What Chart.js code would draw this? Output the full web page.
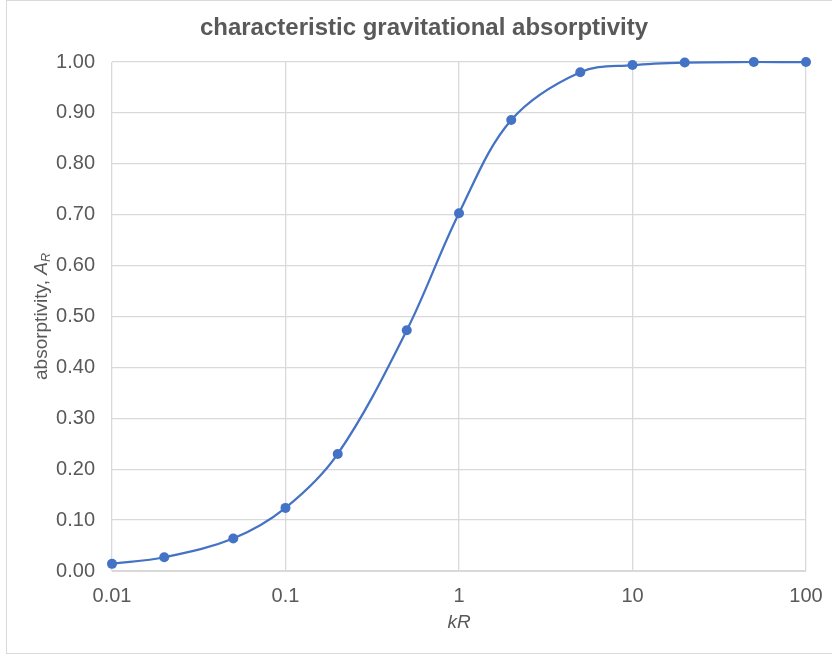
<!DOCTYPE html>
<html>
<head>
<meta charset="utf-8">
<script src="https://cdn.jsdelivr.net/npm/chart.js@4"></script>
<style>
  body { margin: 0; background: #fff; }
  #wrap { position: relative; width: 832px; height: 655px; overflow: hidden; }
  #frame { position: absolute; left: 6px; top: 0; width: 840px; height: 652px; border: 1px solid #d9d9d9; pointer-events: none; }
</style>
</head>
<body>
<div id="wrap">
  <canvas id="myChart" width="832" height="655"></canvas>
  <div id="frame"></div>
</div>
<script>
// values
var kR = [0.01, 0.02, 0.05, 0.1, 0.2, 0.5, 1, 2, 5, 10, 20, 50, 100];
var absorptivity = [0.014, 0.027, 0.064, 0.124, 0.230, 0.473, 0.703, 0.886, 0.980, 0.994, 0.999, 1.000, 1.000];
var xTicks = [0.01, 0.1, 1, 10, 100];

var titleText = 'characteristic gravitational absorptivity';
var textColor = '#595959';
var fontName = '"Liberation Sans", Arial, sans-serif';

function makePoints(xs, ys){
    var pts = [];
    for(var i = 0;i<xs.length;i++){
        pts.push({x: xs[i], y: ys[i]});
    }
    return pts;
}

// title and axis titles (A_R needs italic + subscript, so drawn by hand)
var labelsPlugin = {
    id: 'labels',
    afterDraw: function(chart) {
        var c = chart.ctx;
        var area = chart.chartArea;
        c.save();
        c.fillStyle = textColor;
        c.textBaseline = 'middle';
        c.textAlign = 'center';
        c.font = 'bold 24px ' + fontName;
        c.fillText(titleText, 424, 28);

        c.font = 'italic 19px ' + fontName;
        c.fillText('kR', (area.left + area.right) / 2, 623);

        // y title, rotated
        var yMid = (area.top + area.bottom) / 2;
        c.translate(40, yMid);
        c.rotate(-Math.PI / 2);
        var part1 = 'absorptivity, ';
        c.font = '19px ' + fontName;
        var w1 = c.measureText(part1).width;
        c.font = 'italic 19px ' + fontName;
        var w2 = c.measureText('A').width;
        c.font = 'italic 12.5px ' + fontName;
        var w3 = c.measureText('R').width;
        var start = -(w1 + w2 + w3) / 2;
        c.textAlign = 'left';
        c.textBaseline = 'alphabetic';
        c.font = '19px ' + fontName;
        c.fillText(part1, start, 7);
        c.font = 'italic 19px ' + fontName;
        c.fillText('A', start + w1, 7);
        c.font = 'italic 12.5px ' + fontName;
        c.fillText('R', start + w1 + w2, 10);
        c.restore();
    }
};

var ctx = document.getElementById('myChart').getContext('2d');
var chart = new Chart(ctx, {
    type: 'scatter',
    data: {
        datasets: [{
            data: makePoints(kR, absorptivity),
            showLine: true,
            clip: false,
            borderColor: '#4472C4',
            backgroundColor: '#4472C4',
            borderWidth: 2.25,
            pointRadius: 5,
            pointBorderWidth: 0,
            tension: 0.35
        }]
    },
    options: {
        responsive: false,
        animation: false,
        devicePixelRatio: 1,
        layout: { padding: { top: 62, right: 26, left: 0, bottom: 0 } },
        plugins: {
            legend: { display: false },
            title: { display: false },
            tooltip: { enabled: false }
        },
        scales: {
            x: {
                type: 'logarithmic',
                min: 0.01,
                max: 100,
                afterBuildTicks: function(axis) {
                    axis.ticks = xTicks.map(function(v){ return {value: v}; });
                },
                afterFit: function(axis) {
                    axis.height = 84;
                    axis.paddingLeft = 0;
                    axis.paddingRight = 0;
                },
                grid: { color: '#d9d9d9', lineWidth: 1.3, drawTicks: false },
                border: { color: '#d9d9d9' },
                ticks: {
                    color: textColor,
                    font: { family: fontName, size: 20 },
                    padding: 13,
                    maxRotation: 0,
                    autoSkip: false,
                    callback: function(v) { return String(v); }
                }
            },
            y: {
                min: 0,
                max: 1,
                afterFit: function(axis) {
                    axis.width = 112;
                    axis.paddingTop = 0;
                    axis.paddingBottom = 0;
                },
                grid: { color: '#d9d9d9', lineWidth: 1.3, drawTicks: false },
                border: { display: false },
                ticks: {
                    stepSize: 0.1,
                    color: textColor,
                    font: { family: fontName, size: 20 },
                    padding: 17,
                    callback: function(v) { return v.toFixed(2); }
                }
            }
        }
    },
    plugins: [labelsPlugin]
});
</script>
</body>
</html>
